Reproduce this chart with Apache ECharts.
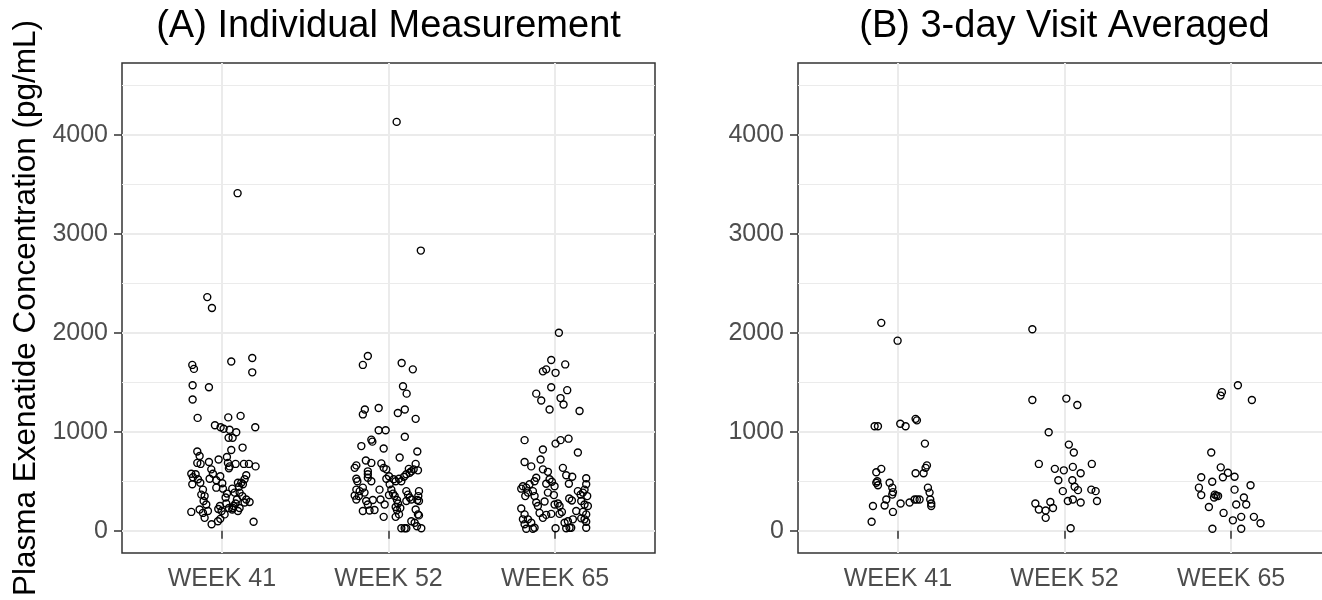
<!DOCTYPE html>
<html>
<head>
<meta charset="utf-8">
<script src="https://cdn.jsdelivr.net/npm/echarts@6/dist/echarts.min.js"></script>
<style>
  html, body { margin: 0; padding: 0; background: #fff; }
  #chart { width: 1322px; height: 600px; }
</style>
</head>
<body>
<div id="chart"></div>
<script>
// Visit categories and axis ticks
const weeks = ['WEEK 41', 'WEEK 52', 'WEEK 65'];
const yMajorTicks = [0, 1000, 2000, 3000, 4000];
const yMinorTicks = [500, 1500, 2500, 3500, 4500];
const panelTitles = ['(A) Individual Measurement', '(B) 3-day Visit Averaged'];
const yTitle = 'Plasma Exenatide Concentration (pg/mL)';

// Individual measurements: [jittered visit position, concentration pg/mL]
const indiv41 = [
  [1.094,3410],[0.912,2360],[0.940,2250],
  [0.822,1675],[0.832,1635],[1.056,1710],[1.182,1745],[1.182,1600],[0.824,1470],[0.922,1450],[0.824,1325],
  [0.854,1140],[1.038,1145],[1.112,1160],[0.958,1065],[0.992,1045],[1.010,1030],[1.046,1020],[1.086,995],
  [1.200,1045],[1.040,940],[1.064,940],
  [1.124,840],[1.056,815],[0.852,800],[0.866,755],[1.030,745],[0.852,685],[0.872,675],[0.922,695],[0.980,720],
  [1.036,685],[1.046,650],[1.042,630],[1.082,675],[1.132,675],[1.162,675],[1.202,650],
  [0.816,575],[0.826,540],[0.842,570],[0.856,520],[0.822,470],[0.870,485],[0.886,415],[0.876,365],[0.896,350],
  [0.890,300],[0.906,265],[0.866,215],[0.886,180],[0.916,200],[0.896,130],[0.816,190],[0.938,65],[0.976,95],[0.990,120],
  [0.936,620],[0.946,575],[0.926,525],[0.966,510],[0.990,550],[1.002,480],[0.966,435],[1.006,425],[1.030,375],
  [1.022,335],[0.988,250],[0.978,220],[0.998,200],[1.026,275],[1.042,230],[1.062,215],[1.070,250],[1.016,165],
  [1.062,425],[1.076,385],[1.102,445],[1.096,485],[1.116,485],[1.146,560],[1.136,520],[1.126,470],[1.106,385],
  [1.122,350],[1.146,315],[1.136,285],[1.166,290],[1.090,315],[1.082,275],[1.066,230],[1.190,90],[1.106,230],[1.096,200]
];
const indiv52 = [
  [2.049,4130],[2.194,2830],
  [1.876,1765],[1.846,1675],[2.079,1695],[2.146,1630],[2.087,1460],[2.109,1385],[1.858,1225],[1.846,1175],
  [1.941,1240],[2.098,1225],[2.056,1190],[2.163,1130],[1.941,1015],[1.983,1015],[1.897,920],[2.098,950],
  [1.837,855],[1.903,900],[1.971,830],[2.173,800],[2.067,740],[1.864,710],[1.897,685],[1.807,660],[1.797,635],
  [1.957,680],[1.971,635],[1.876,600],[1.876,570],[1.876,535],[1.897,500],[1.807,525],[1.813,500],[1.987,620],
  [2.003,550],[1.987,525],[2.031,520],[2.043,500],[2.063,525],
  [2.122,625],[2.137,600],[2.163,675],[2.177,610],[2.107,570],[2.127,585],[2.151,620],[2.093,545],[2.077,500],
  [2.183,400],[2.179,350],[2.173,310],[2.183,300],[2.163,215],[2.177,165],[2.183,155],
  [2.107,400],[2.117,365],[2.127,335],[2.137,315],[2.107,300],
  [1.807,415],[1.827,400],[1.797,355],[1.822,350],[1.846,435],[1.856,385],[1.807,315],[1.866,300],[1.876,265],
  [1.906,310],[1.946,415],[1.952,315],[1.846,200],[1.886,205],[1.916,210],[1.971,140],[1.977,265],
  [2.007,470],[2.017,415],[2.027,375],[2.003,360],[2.037,350],[2.051,310],[2.057,275],[2.043,240],[2.051,210],
  [2.071,230],[2.063,165],[2.043,140],
  [2.077,25],[2.097,25],[2.107,25],[2.137,95],[2.157,80],[2.197,25],[2.171,45]
];
const indiv65 = [
  [3.023,2000],[2.977,1725],[3.061,1680],[2.947,1630],[2.927,1610],[3.003,1595],[2.977,1450],[3.073,1420],
  [2.887,1385],[2.917,1315],[3.033,1340],[3.051,1275],[2.967,1225],[3.147,1210],
  [2.817,915],[3.003,880],[3.033,915],[3.081,930],[3.137,790],[2.927,820],[2.913,720],[2.817,695],[2.857,650],
  [2.927,620],[2.957,595],[3.047,635],[3.067,560],[3.103,545],[3.083,475],[3.187,530],
  [2.887,535],[2.877,500],[2.967,520],[2.981,495],[2.947,475],[2.997,450],
  [2.807,450],[2.827,435],[2.797,425],[2.847,470],[2.837,385],[2.867,400],[2.877,350],[2.821,350],
  [2.887,285],[2.897,250],[2.937,295],[2.957,385],[2.993,360],[2.997,265],[3.017,275],[3.027,250],[3.085,325],[3.101,305],
  [3.137,400],[3.153,365],[3.167,385],[3.177,415],[3.187,470],[3.193,350],[3.157,300],[3.177,265],[3.197,250],
  [3.127,200],[3.167,190],[3.187,165],
  [3.157,125],[3.177,115],[3.187,90],
  [2.797,225],[2.817,165],[2.807,115],[2.837,115],[2.817,65],[2.857,80],[2.877,30],[2.827,20],[2.867,20],
  [2.907,180],[2.927,130],[2.947,160],[2.977,170],[3.003,25],[3.027,170],[3.041,190],
  [3.057,80],[3.077,95],[3.087,30],[3.067,25],[3.097,30],[3.107,115],[3.187,30]
];

// 3-day visit averages: [jittered visit position, concentration pg/mL]
const avg41 = [
  [0.900,2100],[0.998,1920],[0.860,1055],[0.880,1055],[1.014,1080],[1.046,1055],[1.106,1130],[1.114,1115],
  [1.162,880],[0.870,590],[0.900,625],[0.870,485],[0.880,460],[0.876,500],[0.950,485],[0.966,435],[0.970,390],
  [0.966,365],[1.106,580],[1.154,580],[1.166,635],[1.174,660],[1.180,435],[1.190,385],[1.114,315],[1.130,315],
  [1.100,315],[1.070,285],[1.016,275],[1.194,315],[1.200,275],[1.200,250],[0.930,315],[0.920,255],[0.850,250],
  [0.970,190],[0.842,90]
];
const avg52 = [
  [1.807,2035],[1.807,1320],[2.011,1335],[2.077,1270],[1.905,995],[2.026,870],[2.056,790],[1.846,675],[2.164,675],
  [1.942,625],[1.996,610],[2.050,645],[2.097,580],[1.963,510],[2.047,510],[2.061,445],[2.081,410],[1.990,400],
  [2.161,415],[2.187,400],[2.020,300],[2.050,315],[2.097,285],[2.195,300],[1.825,275],[1.846,215],[1.915,290],
  [1.931,230],[1.887,205],[1.887,130],[2.037,25]
];
const avg65 = [
  [3.041,1470],[2.945,1400],[2.937,1365],[3.125,1320],[2.881,790],[2.938,640],[2.981,585],[3.021,545],[2.951,540],
  [2.821,540],[2.887,495],[3.117,460],[2.807,435],[2.821,360],[3.021,415],[2.902,365],[2.922,350],[2.898,335],
  [2.912,355],[3.077,335],[3.031,265],[3.091,265],[2.867,240],[2.955,180],[3.061,140],[3.011,105],[3.137,140],
  [3.177,75],[2.888,20],[3.061,20]
];

const panelData = [[indiv41, indiv52, indiv65], [avg41, avg52, avg65]];

const FONT = 'Liberation Sans, Arial, sans-serif';
const gridColor = '#EBEBEB';
const Y_MIN = -225, Y_MAX = 4725;
const panelLefts = [122, 798];
const PANEL_W = 533, PANEL_TOP = 63, PANEL_H = 490;

const chart = echarts.init(document.getElementById('chart'), null, { renderer: 'canvas' });

const grids = [], xAxes = [], yAxes = [], series = [], graphics = [];

panelLefts.forEach((left, p) => {
  grids.push({
    left: left, top: PANEL_TOP, width: PANEL_W, height: PANEL_H,
    show: true, borderColor: '#333333', borderWidth: 1.5, backgroundColor: 'transparent',
    outerBoundsMode: 'none', containLabel: false
  });
  xAxes.push({
    gridIndex: p, type: 'value', min: 0.4, max: 3.6,
    axisLine: { show: false },
    axisTick: { show: true, customValues: [1, 2, 3], length: 8, lineStyle: { color: '#333333', width: 1.5 } },
    axisLabel: {
      customValues: [1, 2, 3], margin: 14,
      formatter: v => weeks[Math.round(v) - 1] || '',
      color: '#4D4D4D', fontSize: 25, fontFamily: FONT
    },
    splitLine: { show: true, lineStyle: { color: gridColor, width: 2 } }
  });
  // major y axis with labels
  yAxes.push({
    gridIndex: p, type: 'value', min: Y_MIN, max: Y_MAX,
    axisLine: { show: false },
    axisTick: { show: true, customValues: yMajorTicks, length: 8, lineStyle: { color: '#333333', width: 1.5 } },
    axisLabel: {
      customValues: yMajorTicks, margin: 14,
      formatter: v => String(Math.round(v)),
      color: '#4D4D4D', fontSize: 25, fontFamily: FONT
    },
    splitLine: { show: true, lineStyle: { color: gridColor, width: 2 } },
    name: p === 0 ? yTitle : '',
    nameLocation: 'middle', nameRotate: 90, nameGap: 80,
    nameTextStyle: { color: '#000', fontSize: 31.5, fontFamily: FONT }
  });
  // minor gridlines
  yAxes.push({
    gridIndex: p, type: 'value', min: Y_MIN, max: Y_MAX, position: 'left',
    axisLine: { show: false },
    axisTick: { show: false, customValues: yMinorTicks },
    axisLabel: { show: false, customValues: yMinorTicks },
    splitLine: { show: true, lineStyle: { color: gridColor, width: 1 } }
  });
  panelData[p].forEach(arr => {
    series.push({
      type: 'scatter', xAxisIndex: p, yAxisIndex: p * 2,
      data: arr, symbol: 'circle', symbolSize: 7,
      itemStyle: { color: 'rgba(0,0,0,0)', borderColor: '#000', borderWidth: 1.4, opacity: 1 },
      emphasis: { disabled: true }, silent: true, animation: false, z: 3
    });
  });
  graphics.push({
    type: 'text', silent: true,
    x: left + PANEL_W / 2, y: 27,
    style: {
      text: panelTitles[p], fill: '#000', font: '38px ' + FONT,
      textAlign: 'center', textVerticalAlign: 'middle'
    }
  });
});

chart.setOption({
  backgroundColor: '#ffffff',
  animation: false,
  grid: grids,
  xAxis: xAxes,
  yAxis: yAxes,
  series: series,
  graphic: graphics
});
</script>
</body>
</html>
